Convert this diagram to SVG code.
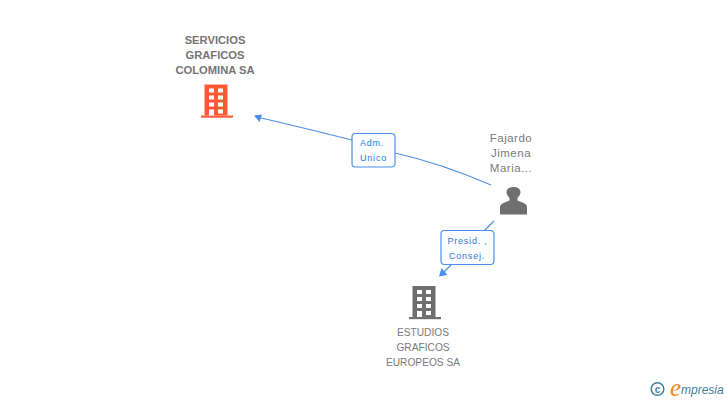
<svg xmlns="http://www.w3.org/2000/svg" width="728" height="400" viewBox="0 0 728 400">
<style>
text{font-family:"Liberation Sans",Arial,sans-serif}
.n{font-size:10.2px;fill:#7a7a7a;text-anchor:middle}
.b{font-weight:bold;font-size:11.2px;fill:#757575}
.p{font-size:11.5px;fill:#7a7a7a;letter-spacing:.5px;text-anchor:middle}
.l{font-size:9px;fill:#2f7ae0;text-anchor:middle;letter-spacing:.8px}
.box{fill:#fbfdff;stroke:#4d8fe8;stroke-width:1.2}
.c{fill:none;stroke:#4d8fe8;stroke-width:1.2}
.w{fill:#fff}
</style>
<defs>
<g id="bld">
<rect x="3.500" y="0" width="23" height="31"/>
<rect x="0" y="31" width="32" height="2.200"/>
<g class="w">
<rect x="8" y="4" width="5" height="4"/><rect x="17" y="4" width="5" height="4"/>
<rect x="8" y="11" width="5" height="4"/><rect x="17" y="11" width="5" height="4"/>
<rect x="8" y="18" width="5" height="4"/><rect x="17" y="18" width="5" height="4"/>
<rect x="8" y="25" width="5" height="6"/><rect x="17" y="25" width="5" height="4"/>
</g>
</g>
</defs>
<g id="connectors">
<path class="c" d="M491 185Q440 163 395 153"/>
<path class="c" d="M352 140Q300 127 257 117"/>
<path d="M254 115.500L262 114.500L259.500 122Z" fill="#4d8fe8"/>
<path class="c" d="M494 221L484 231"/>
<path class="c" d="M451 265L442 274"/>
<path d="M439 276.500L441.500 268L447.500 275Z" fill="#4d8fe8"/>
</g>
<g id="n1">
<text class="n b" x="215" y="44">SERVICIOS</text>
<text class="n b" x="215" y="59">GRAFICOS</text>
<text class="n b" x="215" y="74">COLOMINA SA</text>
<use href="#bld" x="201" y="84.500" fill="#ff5a33"/>
</g>
<g id="n2">
<text class="p" x="511" y="142">Fajardo</text>
<text class="p" x="511" y="157">Jimena</text>
<text class="p" x="511" y="172">Maria...</text>
<path d="M500 214.500V207Q500 204 506 202L509.500 200.500V198Q506.500 195 506.500 192.500Q506.500 187 513.500 187Q520.500 187 520.500 192.500Q520.500 195 517.500 198V200.500L521 202Q527 204 527 207V214.500Z" fill="#6f6f6f"/>
</g>
<g id="n3">
<use href="#bld" x="409" y="286" fill="#6f6f6f"/>
<text class="n" x="423" y="336">ESTUDIOS</text>
<text class="n" x="423" y="351">GRAFICOS</text>
<text class="n" x="423" y="366">EUROPEOS SA</text>
</g>
<g id="e1">
<rect class="box" x="352" y="133.500" width="43" height="33.500" rx="3.500"/>
<text class="l" x="372" y="146">Adm.</text>
<text class="l" x="373.500" y="161">Unico</text>
</g>
<g id="e2">
<rect class="box" x="441" y="230.500" width="53" height="34" rx="3.500"/>
<text class="l" x="467.500" y="244">Presid. ,</text>
<text class="l" x="467" y="259">Consej.</text>
</g>
<g id="logo">
<circle cx="657.500" cy="389" r="6.300" fill="none" stroke="#3f7f9a" stroke-width="1.500"/>
<text x="657.500" y="392.500" font-size="10" font-weight="bold" fill="#3f7f9a" text-anchor="middle">c</text>
<text x="670" y="396" font-size="25" font-style="italic" fill="#f08a1d" style="font-family:'Liberation Serif',serif">e</text>
<text x="681" y="394" font-size="12" font-style="italic" fill="#3f7f9a">mpresia</text>
</g>
</svg>
